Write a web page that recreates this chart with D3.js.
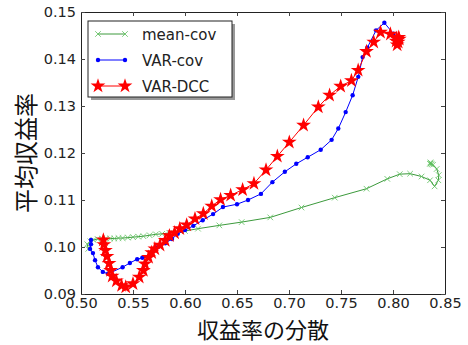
<!DOCTYPE html>
<html>
<head>
<meta charset="utf-8">
<script src="https://cdn.jsdelivr.net/npm/d3@7"></script>
<style>
  body { margin: 0; background: #fff; }
  svg { display: block; }
</style>
</head>
<body>
<div id="chart"></div>
<script>
// data: [variance, mean return]
const meanCov = [
  [0.507, 0.0996], [0.506, 0.1006], [0.509, 0.1012], [0.512, 0.1015], [0.516, 0.1017],
  [0.520, 0.1018], [0.524, 0.1018], [0.528, 0.1018], [0.532, 0.1018], [0.536, 0.1019],
  [0.540, 0.1019], [0.545, 0.1020], [0.550, 0.1021], [0.555, 0.1022], [0.560, 0.1023],
  [0.566, 0.1025], [0.572, 0.1027], [0.578, 0.1028], [0.585, 0.1030], [0.592, 0.1032],
  [0.600, 0.1034], [0.6125, 0.1039], [0.633, 0.1046], [0.6545, 0.1053], [0.682, 0.1063],
  [0.712, 0.1084], [0.744, 0.1105], [0.7745, 0.1124], [0.7945, 0.1145], [0.8065, 0.1155],
  [0.8165, 0.1156], [0.8275, 0.1150], [0.8356, 0.1142], [0.8400, 0.1129], [0.8436, 0.1142],
  [0.8440, 0.1153], [0.842, 0.1166], [0.8385, 0.1175], [0.8365, 0.1178], [0.8360, 0.1180],
  [0.8370, 0.1176], [0.8355, 0.1177]
];

const varCov = [
  [0.5096, 0.1015], [0.5096, 0.1006], [0.5087, 0.0996], [0.5115, 0.0987], [0.5135, 0.0972],
  [0.5163, 0.0957], [0.521, 0.0947], [0.526, 0.0943], [0.540, 0.0957], [0.547, 0.0966],
  [0.554, 0.0974], [0.559, 0.0977], [0.564, 0.0979], [0.568, 0.0989], [0.574, 0.1000],
  [0.581, 0.1008], [0.5875, 0.1017], [0.593, 0.1028], [0.600, 0.1036], [0.608, 0.1045],
  [0.617, 0.1057], [0.627, 0.1070], [0.6365, 0.1085], [0.650, 0.1091], [0.6606, 0.1100],
  [0.673, 0.1113], [0.684, 0.1138], [0.696, 0.1160], [0.707, 0.1177], [0.718, 0.1191],
  [0.7305, 0.1207], [0.741, 0.1228], [0.7474, 0.1252], [0.7545, 0.1287], [0.7612, 0.1323],
  [0.7666, 0.1362], [0.7708, 0.1404], [0.7753, 0.1424], [0.7837, 0.1461], [0.7917, 0.1477],
  [0.8003, 0.1454], [0.8041, 0.1443], [0.8067, 0.1436]
];

const varDcc = [
  [0.5215, 0.1015], [0.522, 0.1005], [0.5235, 0.0993], [0.525, 0.0980], [0.527, 0.0965],
  [0.5285, 0.0950], [0.530, 0.0938], [0.534, 0.0928], [0.539, 0.0918], [0.543, 0.0915],
  [0.550, 0.0922], [0.556, 0.0936], [0.560, 0.0950], [0.5615, 0.0964], [0.565, 0.0978],
  [0.568, 0.0988], [0.571, 0.0996], [0.576, 0.1004], [0.581, 0.1014], [0.585, 0.1024],
  [0.590, 0.1030], [0.595, 0.1039], [0.6016, 0.1047], [0.6096, 0.1060], [0.6176, 0.1071],
  [0.6257, 0.1087], [0.6342, 0.1101], [0.6439, 0.1110], [0.6554, 0.1122], [0.6663, 0.1135],
  [0.6779, 0.1164], [0.6888, 0.1193], [0.7003, 0.1223], [0.7140, 0.1259], [0.7282, 0.1298],
  [0.7390, 0.1323], [0.7497, 0.1342], [0.7600, 0.1354], [0.7665, 0.1376], [0.7745, 0.1416],
  [0.7815, 0.1436], [0.7880, 0.1457], [0.7975, 0.1453], [0.8035, 0.1444], [0.8050, 0.1436],
  [0.8040, 0.1430], [0.8060, 0.1442], [0.8030, 0.1438], [0.8055, 0.1446]
];

const xTicks = [0.50, 0.55, 0.60, 0.65, 0.70, 0.75, 0.80, 0.85];
const yTicks = [0.09, 0.10, 0.11, 0.12, 0.13, 0.14, 0.15];
const seriesNames = ["mean-cov", "VAR-cov", "VAR-DCC"];

const width = 468, height = 345;
const plotL = 81, plotR = 445, plotT = 12, plotB = 294;

const svg = d3.select("#chart").append("svg")
  .attr("width", width)
  .attr("height", height);

const x = d3.scaleLinear().domain([0.50, 0.85]).range([plotL, plotR]);
const y = d3.scaleLinear().domain([0.09, 0.15]).range([plotB, plotT]);

const tickFont = "'DejaVu Sans', sans-serif";

// axes, ticks pointing inward like old matplotlib
const axB = svg.append("g").attr("transform", `translate(0,${plotB})`)
  .call(d3.axisBottom(x).tickValues(xTicks).tickFormat(d3.format(".2f"))
    .tickSizeInner(-4).tickSizeOuter(0).tickPadding(4));
const axT = svg.append("g").attr("transform", `translate(0,${plotT})`)
  .call(d3.axisTop(x).tickValues(xTicks).tickFormat("").tickSizeInner(-4).tickSizeOuter(0));
const axL = svg.append("g").attr("transform", `translate(${plotL},0)`)
  .call(d3.axisLeft(y).tickValues(yTicks).tickFormat(d3.format(".2f"))
    .tickSizeInner(-4).tickSizeOuter(0).tickPadding(5));
const axR = svg.append("g").attr("transform", `translate(${plotR},0)`)
  .call(d3.axisRight(y).tickValues(yTicks).tickFormat("").tickSizeInner(-4).tickSizeOuter(0));

[axB, axT, axL, axR].forEach(g => {
  g.select(".domain").attr("stroke", "#222").attr("stroke-width", 1);
  g.selectAll(".tick line").attr("stroke", "#444");
  g.selectAll("text").attr("font-family", tickFont).attr("font-size", 14.5).attr("fill", "#222");
});

// series
const line = d3.line().x(d => x(d[0])).y(d => y(d[1]));
const plot = svg.append("g");

// mean-cov: green line with x markers
plot.append("path").datum(meanCov).attr("d", line)
  .attr("fill", "none").attr("stroke", "#3c9a3c").attr("stroke-width", 1);
const cross = d3.symbol().type(d3.symbolTimes).size(22);
plot.selectAll(".mc").data(meanCov).join("path")
  .attr("transform", d => `translate(${x(d[0])},${y(d[1])})`)
  .attr("d", cross).attr("fill", "none").attr("stroke", "#5cbf5c").attr("stroke-width", 0.8);

// VAR-cov: blue line with dots
plot.append("path").datum(varCov).attr("d", line)
  .attr("fill", "none").attr("stroke", "#0000ff").attr("stroke-width", 1);
plot.selectAll(".vc").data(varCov).join("circle")
  .attr("cx", d => x(d[0])).attr("cy", d => y(d[1])).attr("r", 2.2)
  .attr("fill", "#0000ff");

// VAR-DCC: red line with stars
plot.append("path").datum(varDcc).attr("d", line)
  .attr("fill", "none").attr("stroke", "#ff0000").attr("stroke-width", 1);
const star = d3.symbol().type(d3.symbolStar).size(68);
plot.selectAll(".vd").data(varDcc).join("path")
  .attr("transform", d => `translate(${x(d[0])},${y(d[1])})`)
  .attr("d", star).attr("fill", "#ff0000");

// axis titles
svg.append("text")
  .attr("x", (plotL + plotR) / 2).attr("y", 338.3)
  .attr("text-anchor", "middle")
  .attr("font-family", "'Noto Sans CJK JP', sans-serif")
  .attr("font-size", 22).attr("fill", "#111")
  .text("収益率の分散");

svg.append("text")
  .attr("transform", `translate(35,${(plotT + plotB) / 2}) rotate(-90)`)
  .attr("text-anchor", "middle")
  .attr("font-family", "'Noto Sans CJK JP', sans-serif")
  .attr("font-size", 24).attr("fill", "#111")
  .text("平均収益率");

// legend with shadow
const lg = svg.append("g");
lg.append("rect").attr("x", 91).attr("y", 24).attr("width", 144).attr("height", 76).attr("fill", "#999");
lg.append("rect").attr("x", 88).attr("y", 21).attr("width", 144).attr("height", 76)
  .attr("fill", "#fff").attr("stroke", "#222").attr("stroke-width", 1);

const legendY = [34, 60, 86];
seriesNames.forEach((name, i) => {
  const ly = legendY[i];
  const color = ["#3c9a3c", "#0000ff", "#ff0000"][i];
  lg.append("line").attr("x1", 98).attr("x2", 125).attr("y1", ly).attr("y2", ly)
    .attr("stroke", color).attr("stroke-width", 1);
  [98, 125].forEach(px => {
    if (i === 0) {
      lg.append("path").attr("transform", `translate(${px},${ly})`).attr("d", cross)
        .attr("fill", "none").attr("stroke", "#5cbf5c").attr("stroke-width", 0.8);
    } else if (i === 1) {
      lg.append("circle").attr("cx", px).attr("cy", ly).attr("r", 2.2).attr("fill", color);
    } else {
      lg.append("path").attr("transform", `translate(${px},${ly})`).attr("d", star).attr("fill", color);
    }
  });
  lg.append("text").attr("x", 142).attr("y", ly + 5.5)
    .attr("font-family", tickFont).attr("font-size", 15).attr("fill", "#222")
    .text(name);
});
</script>
</body>
</html>
